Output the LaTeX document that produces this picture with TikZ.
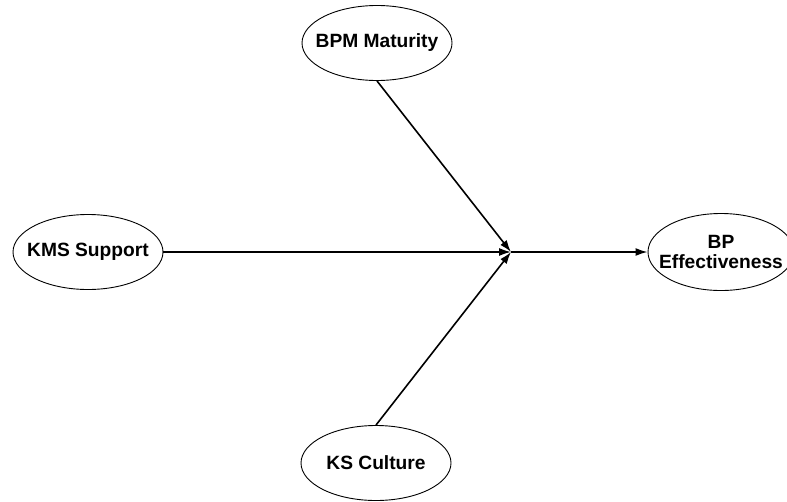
\documentclass[tikz,border=0pt]{standalone}
\usepackage{fontspec}
\setmainfont{Liberation Sans}
\usetikzlibrary{arrows.meta,shapes.geometric}

\begin{document}
\begin{tikzpicture}[x=1pt,y=-1pt,
  construct/.style={ellipse,draw,line width=0.9pt,minimum width=150,minimum height=75,
    inner xsep=-12pt,inner ysep=0pt,align=center,font=\fontsize{19.2}{20}\selectfont\bfseries},
  path/.style={line width=1.6pt,-{Latex[length=12,width=8]}}]
\useasboundingbox (0,0) rectangle (787,501);
\node[construct] (bpm) at (377,43) {BPM Maturity};
\node[construct] (kms) at (88,252) {KMS Support};
\node[construct] (ksc) at (376,463) {KS Culture};
\node[construct,minimum width=146,minimum height=77,inner xsep=-16pt] (bpe) at (721,252) {BP\\Effectiveness};
\coordinate (J) at (511,252);
\draw[path] (bpm.south) -- (J);
\draw[path] (kms) -- (J);
\draw[path] (ksc.north) -- (J);
\draw[path] (J) -- (bpe);
\end{tikzpicture}
\end{document}
